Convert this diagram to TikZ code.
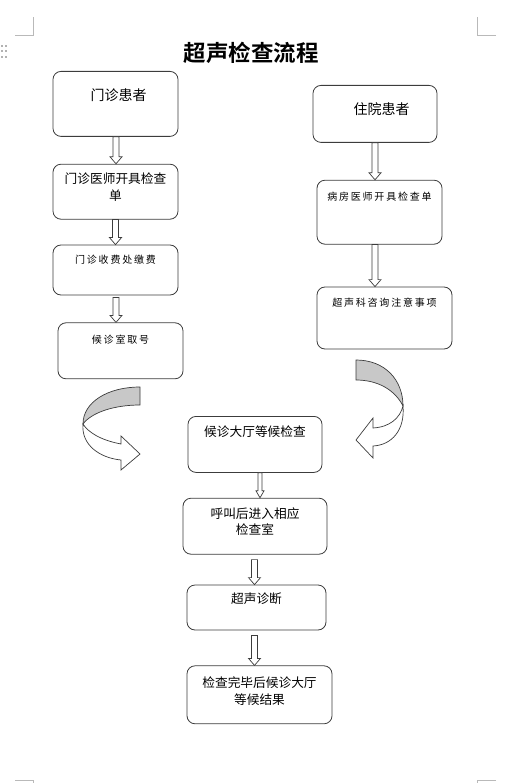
\documentclass[tikz,border=0pt]{standalone}
\usepackage{fontspec}
\usepackage{tikz}
\usetikzlibrary{positioning, calc}
\usepackage{xcolor}
\newfontfamily\cjk[BoldFont={Noto Sans CJK SC Bold}]{Noto Sans CJK SC}
\newfontfamily\cjkspaced[LetterSpace=18]{Noto Sans CJK SC}
\definecolor{boxline}{RGB}{60,60,60}
\definecolor{backgray}{RGB}{200,200,200}
\definecolor{cropgray}{RGB}{185,185,185}

\newcommand{\blockarrow}[5][1]{%
  \draw[hollow] let \p1=($(#2.south)+(#4,-#5)$), \p2=(#3.north) in
    (\x1-3pt*#1,\y1) -- (\x1-3pt*#1,\y2+7pt) -- (\x1-6pt*#1,\y2+7pt) -- (\x1,\y2)
    -- (\x1+6pt*#1,\y2+7pt) -- (\x1+3pt*#1,\y2+7pt) -- (\x1+3pt*#1,\y1) -- cycle;}

\begin{document}
\begin{tikzpicture}[
  x=1pt, y=1pt,
  box/.style={draw=boxline, line width=0.8pt, rounded corners=8pt,
              fill=white, anchor=north, inner sep=0pt, align=center,
              font=\cjk\fontsize{12.7pt}{16.5pt}\selectfont},
  big/.style={font=\cjk\fontsize{14pt}{17pt}\selectfont},
  spaced/.style={font=\cjkspaced\fontsize{10pt}{14pt}\selectfont},
  hollow/.style={draw=boxline, line width=0.7pt, fill=white},
  twist/.style={draw=boxline, line width=0.7pt}
]
\useasboundingbox (0,0) rectangle (523,-783);

\draw[cropgray] (15,-35) -- (33,-35) -- (33,-17);
\draw[cropgray] (496,-35) -- (477,-35) -- (477,-17);
\draw[cropgray] (15,-780) -- (33,-780) -- (33,-783);
\draw[cropgray] (496,-780) -- (477,-780) -- (477,-783);
\foreach \dx in {1.5,5.5}
  \foreach \dy in {46,51.3,57}
    \fill[gray!60] (\dx-1,-\dy+1) rectangle (\dx+1,-\dy-1);

\node[font=\cjk\bfseries\fontsize{22.5pt}{26pt}\selectfont] (title)
  at (251,-53) {超声检查流程};

\node[box, big, text width=125pt, text height=29.3pt, text depth=35.7pt]
  (opd) at (115.5,-71) {\hspace*{6pt}门诊患者};
\node[box, text width=125pt, text height=19.8pt, text depth=35.2pt,
  below=27pt of opd] (order) {门诊医师开具检查\\单};
\node[box, spaced, text width=125pt, text height=18.8pt, text depth=31.2pt,
  below=25pt of order] (pay) {门诊收费处缴费};
\node[box, spaced, text width=125pt, text height=20.8pt, text depth=35.2pt,
  below=27pt of pay, xshift=5pt] (queue) {候诊室取号};

\node[box, big, text width=124pt, text height=29.3pt, text depth=27.7pt]
  (ipd) at (375,-85) {\hspace*{13pt}住院患者};
\node[box, spaced, text width=125pt, text height=20.8pt, text depth=43.2pt,
  below=37pt of ipd, xshift=4.5pt] (ward) {病房医师开具检查单};
\node[box, spaced, text width=135pt, text height=19.8pt, text depth=42.2pt,
  below=42pt of ward, xshift=5pt] (consult) {超声科咨询注意事项};

\node[box, text width=134pt, text height=19.8pt, text depth=36.2pt]
  (hall) at (255,-416) {候诊大厅等候检查};
\node[box, text width=144pt, text height=19.8pt, text depth=36.2pt,
  below=25pt of hall] (call) {呼叫后进入相应\\检查室};
\node[box, text width=139pt, text height=18.3pt, text depth=26.7pt,
  below=30pt of call, xshift=1.5pt] (scan) {超声诊断};
\node[box, text width=145pt, text height=21.8pt, text depth=36.2pt,
  below=35pt of scan, xshift=3pt] (result) {检查完毕后候诊大厅\\等候结果};

\blockarrow{opd}{order}{0.5}{0}
\blockarrow{order}{pay}{0}{0}
\blockarrow{pay}{queue}{0.5}{2}
\blockarrow{ipd}{ward}{0}{0}
\blockarrow{ward}{consult}{-4.5}{0}
\blockarrow[0.67]{hall}{call}{5}{0}
\blockarrow{call}{scan}{-0.5}{5}
\blockarrow{scan}{result}{-2}{5}

\filldraw[twist, fill=backgray] (140,-387) .. controls (108,-387) and (83,-402) .. (83,-424)
  .. controls (92,-412) and (115,-405) .. (140,-405) -- cycle;
\filldraw[twist, fill=white] (83,-424) .. controls (81,-445) and (100,-458) .. (121,-460)
  -- (121,-470) -- (140,-454) -- (121,-436) -- (121,-444)
  .. controls (100,-440) and (88,-432) .. (83,-424) -- cycle;

\filldraw[twist, fill=backgray] (356,-360) .. controls (385,-360) and (403,-380) .. (403,-406)
  .. controls (395,-390) and (378,-380) .. (356,-380) -- cycle;
\filldraw[twist, fill=white] (403,-406) .. controls (405,-430) and (392,-445) .. (373,-446)
  -- (373,-458) -- (356,-440) -- (373,-418) -- (373,-428)
  .. controls (390,-427) and (400,-418) .. (403,-406) -- cycle;
\end{tikzpicture}
\end{document}
